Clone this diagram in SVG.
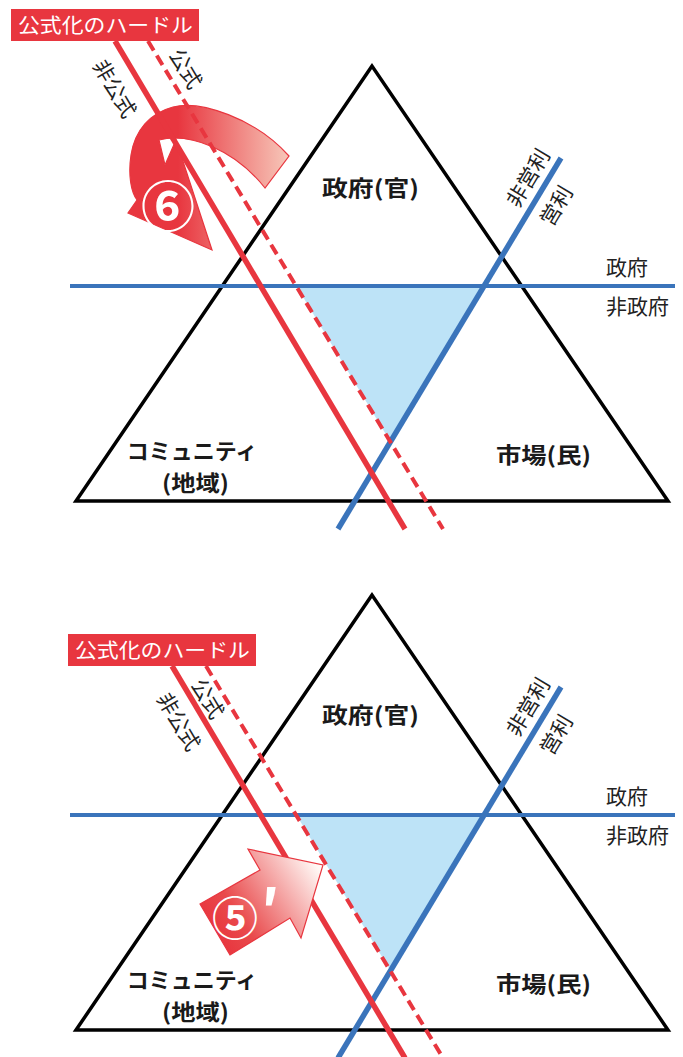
<svg xmlns="http://www.w3.org/2000/svg" width="683" height="1057" viewBox="0 0 683 1057">
<defs>
<style>
.tri{fill:none;stroke:#000;stroke-width:3.5;stroke-linejoin:miter}
.area{fill:#bde3f7}
.bh{stroke:#3a74bb;stroke-width:4;fill:none}
.bd{stroke:#3a74bb;stroke-width:5.5;fill:none}
.red{stroke:#e8363f;stroke-width:5.5;fill:none}
.redd{stroke:#e8363f;stroke-width:4;fill:none;stroke-dasharray:11 6}
.jp{font-family:"Noto Sans CJK JP","Noto Sans",sans-serif}
.b{font-weight:700;fill:#1a1a1a;font-size:22px}
.lab{font-size:21px;fill:#222}
.rot{font-size:21px;fill:#222;text-anchor:middle;dominant-baseline:central}
.hl{fill:#e8363f}
.hlt{fill:#fff;font-size:20px}
.arr{stroke:#e8363f;stroke-width:1.2}
.num{fill:#fff;font-weight:700;text-anchor:middle;dominant-baseline:central}
</style>
<linearGradient id="g6" gradientUnits="userSpaceOnUse" x1="130" y1="160" x2="290" y2="160">
<stop offset="0" stop-color="#e8363f"/>
<stop offset="0.3" stop-color="#e8363f"/>
<stop offset="1" stop-color="#f7c9bb"/>
</linearGradient>
<linearGradient id="g5" gradientUnits="userSpaceOnUse" x1="215" y1="935" x2="318" y2="868">
<stop offset="0" stop-color="#e8363f"/>
<stop offset="0.25" stop-color="#e94a4c"/>
<stop offset="1" stop-color="#fff8f5"/>
</linearGradient>
</defs>
<rect width="683" height="1057" fill="#fff"/>

<!-- TOP DIAGRAM -->
<polygon id="area-top" class="area" points="297.6,288 484,288 390.4,441.8"/>
<polygon id="triangle-top" class="tri" points="372,66 76,501 668,501"/>
<g id="arrow-6">
<path class="arr" fill="url(#g6)" d="M289,156 C255,118 200,100 173,107 C150,113 135,130 131,155 C128,175 131,192 137,200 L128,213 L212,250 L176,140 L165,165 L159,140 C190,132 235,150 265,188 Z"/>
</g>
<g id="connectors-top">
<line class="bh" x1="70" y1="286" x2="675" y2="286"/>
<line class="bd" x1="338" y1="529" x2="561" y2="158"/>
<line class="red" x1="115" y1="41" x2="405" y2="529"/>
<line class="redd" x1="148" y1="41" x2="443" y2="529"/>
</g>
<text class="jp num" x="168" y="203" font-size="54">⑥</text>
<g id="label-hurdle-top">
<rect class="hl" x="11" y="9" width="188" height="32"/>
<text class="jp hlt" x="18" y="33" textLength="175" lengthAdjust="spacingAndGlyphs">公式化のハードル</text>
</g>
<text id="t-hikoushiki-top" class="jp rot" transform="translate(116,88) rotate(59.3)">非公式</text>
<text id="t-koushiki-top" class="jp rot" transform="translate(187,68) rotate(59.3)">公式</text>
<text id="t-hieiri-top" class="jp rot" transform="translate(527,177) rotate(-59)">非営利</text>
<text id="t-eiri-top" class="jp rot" transform="translate(555,205) rotate(-59)">営利</text>
<text id="t-seifu-top" class="jp lab" x="606" y="275">政府</text>
<text id="t-hiseifu-top" class="jp lab" x="606" y="314">非政府</text>
<text id="n-gov-top" class="jp b" x="370.5" y="196" text-anchor="middle" textLength="97" lengthAdjust="spacingAndGlyphs">政府(官)</text>
<text id="n-market-top" class="jp b" x="543.5" y="463" text-anchor="middle" textLength="95" lengthAdjust="spacingAndGlyphs">市場(民)</text>
<g id="n-community-top">
<text class="jp b" x="192" y="459" text-anchor="middle">コミュニティ</text>
<text class="jp b" x="195.5" y="491" text-anchor="middle" textLength="67" lengthAdjust="spacingAndGlyphs">(地域)</text>
</g>

<!-- BOTTOM DIAGRAM -->
<polygon id="area-bottom" class="area" points="297.6,817 484,817 390.4,970.8"/>
<polygon id="triangle-bottom" class="tri" points="372,595 76,1030 668,1030"/>
<g id="connectors-bottom">
<line class="bh" x1="70" y1="815" x2="675" y2="815"/>
<line class="bd" x1="338" y1="1058" x2="561" y2="687"/>
<line class="red" x1="172" y1="666" x2="405" y2="1058"/>
<line class="redd" x1="206" y1="666" x2="443" y2="1058"/>
</g>
<g id="arrow-5">
<path class="arr" fill="url(#g5)" d="M200,904 L260,870 L248,849 L323,865 L301,938 L290,918 L230,955 Z"/>
<text class="jp num" font-size="46"><tspan x="235" y="915">⑤</tspan><tspan x="270" y="907" font-size="58">′</tspan></text>
</g>
<g id="label-hurdle-bottom">
<rect class="hl" x="68" y="634" width="188" height="32"/>
<text class="jp hlt" x="75" y="658" textLength="175" lengthAdjust="spacingAndGlyphs">公式化のハードル</text>
</g>
<text id="t-koushiki-bottom" class="jp rot" transform="translate(209,698) rotate(59.3)">公式</text>
<text id="t-hikoushiki-bottom" class="jp rot" transform="translate(180,721) rotate(59.3)">非公式</text>
<text id="t-hieiri-bottom" class="jp rot" transform="translate(527,706) rotate(-59)">非営利</text>
<text id="t-eiri-bottom" class="jp rot" transform="translate(555,734) rotate(-59)">営利</text>
<text id="t-seifu-bottom" class="jp lab" x="606" y="804">政府</text>
<text id="t-hiseifu-bottom" class="jp lab" x="606" y="843">非政府</text>
<text id="n-gov-bottom" class="jp b" x="370.5" y="723" text-anchor="middle" textLength="97" lengthAdjust="spacingAndGlyphs">政府(官)</text>
<text id="n-market-bottom" class="jp b" x="543.5" y="992" text-anchor="middle" textLength="95" lengthAdjust="spacingAndGlyphs">市場(民)</text>
<g id="n-community-bottom">
<text class="jp b" x="192" y="988" text-anchor="middle">コミュニティ</text>
<text class="jp b" x="195.5" y="1020" text-anchor="middle" textLength="67" lengthAdjust="spacingAndGlyphs">(地域)</text>
</g>
</svg>
